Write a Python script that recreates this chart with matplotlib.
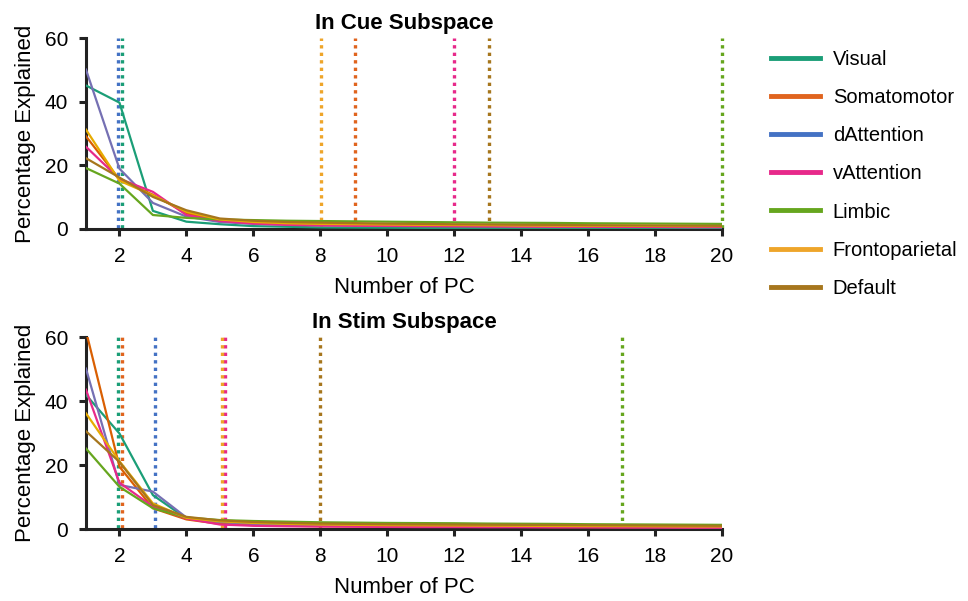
"""Variance explained per PC, by network, in the cue and stim subspaces."""

import matplotlib
matplotlib.use("Agg")
import matplotlib.pyplot as plt
from matplotlib.lines import Line2D

plt.rcParams["font.family"] = ["Liberation Sans", "DejaVu Sans"]

networks = ["Visual", "Somatomotor", "dAttention", "vAttention",
            "Limbic", "Frontoparietal", "Default"]
line_colors = ["#1b9e77", "#d95f02", "#7570b3", "#e7298a",
               "#66a61e", "#e6ab02", "#a6761d"]
marker_colors = ["#1b9e77", "#e0641e", "#4472c4", "#e7298a",
                 "#66a61e", "#eea52a", "#a6761d"]

pcs = list(range(1, 21))

# percentage explained per PC (1..20), cue subspace
cue_visual = [45.2, 39.8, 5.7, 2.3, 1.5, 0.9, 0.7, 0.5, 0.45, 0.4,
              0.35, 0.3, 0.3, 0.25, 0.2, 0.2, 0.15, 0.15, 0.1, 0.1]
cue_somato = [29.2, 15.6, 10.8, 4.9, 2.8, 2.0, 1.6, 1.4, 1.3, 1.2,
              1.15, 1.1, 1.05, 1.0, 0.95, 0.9, 0.9, 0.85, 0.8, 0.8]
cue_dattn = [50.2, 19.0, 8.2, 3.9, 2.2, 1.6, 1.3, 1.2, 1.1, 1.0,
             0.95, 0.9, 0.85, 0.8, 0.75, 0.7, 0.7, 0.65, 0.6, 0.6]
cue_vattn = [25.9, 15.8, 11.7, 4.4, 2.5, 1.7, 1.3, 1.1, 1.0, 0.95,
             0.9, 0.85, 0.8, 0.75, 0.7, 0.7, 0.65, 0.65, 0.6, 0.6]
cue_limbic = [19.2, 14.3, 4.4, 3.5, 3.0, 2.8, 2.6, 2.5, 2.4, 2.3,
              2.2, 2.1, 2.0, 1.95, 1.9, 1.8, 1.75, 1.7, 1.65, 1.6]
cue_fronto = [31.3, 15.2, 10.6, 5.4, 3.0, 2.2, 1.8, 1.6, 1.5, 1.4,
              1.3, 1.25, 1.2, 1.1, 1.05, 1.0, 1.0, 0.95, 0.9, 0.9]
cue_default = [22.3, 16.2, 10.1, 5.9, 3.3, 2.6, 2.2, 2.0, 1.85, 1.7,
               1.6, 1.5, 1.45, 1.35, 1.3, 1.2, 1.15, 1.1, 1.05, 1.0]

# percentage explained per PC (1..20), stim subspace
stim_visual = [42.0, 29.9, 10.6, 3.3, 2.3, 1.8, 1.5, 1.3, 1.2, 1.1,
               1.05, 1.0, 0.95, 0.9, 0.85, 0.8, 0.8, 0.75, 0.7, 0.7]
stim_somato = [62.0, 19.5, 6.5, 3.0, 1.6, 1.2, 1.0, 0.9, 0.85, 0.8,
               0.75, 0.7, 0.7, 0.65, 0.6, 0.6, 0.55, 0.55, 0.5, 0.5]
stim_dattn = [50.2, 13.8, 11.7, 3.6, 2.2, 1.6, 1.3, 1.1, 1.0, 0.95,
              0.9, 0.85, 0.8, 0.75, 0.7, 0.7, 0.65, 0.6, 0.6, 0.55]
stim_vattn = [43.6, 14.5, 7.0, 3.3, 1.4, 1.0, 0.85, 0.75, 0.7, 0.65,
              0.6, 0.6, 0.55, 0.55, 0.5, 0.5, 0.45, 0.45, 0.4, 0.4]
stim_limbic = [25.2, 13.2, 6.5, 3.6, 2.8, 2.5, 2.3, 2.1, 2.0, 1.9,
               1.85, 1.8, 1.7, 1.65, 1.6, 1.5, 1.45, 1.4, 1.35, 1.3]
stim_fronto = [36.2, 21.2, 8.0, 3.5, 2.4, 1.9, 1.6, 1.4, 1.3, 1.2,
               1.15, 1.1, 1.05, 1.0, 0.95, 0.9, 0.9, 0.85, 0.8, 0.8]
stim_default = [30.6, 21.0, 7.5, 3.8, 2.7, 2.2, 1.9, 1.7, 1.6, 1.5,
                1.45, 1.4, 1.35, 1.3, 1.25, 1.2, 1.15, 1.1, 1.05, 1.0]

cue_series = [cue_visual, cue_somato, cue_dattn, cue_vattn,
              cue_limbic, cue_fronto, cue_default]
stim_series = [stim_visual, stim_somato, stim_dattn, stim_vattn,
               stim_limbic, stim_fronto, stim_default]

# PC count marked by the dotted lines (small offsets keep overlaps visible)
cue_marks = [2.07, 9.05, 1.96, 12.0, 20.0, 8.03, 13.05]
stim_marks = [1.96, 2.07, 3.05, 5.16, 17.0, 5.07, 8.0]

fig = plt.figure(figsize=(9.68, 6.01), dpi=100)
ax_top = fig.add_axes([0.0888, 0.619, 0.657, 0.317])
ax_bot = fig.add_axes([0.0888, 0.1198, 0.657, 0.319])

panels = [(ax_top, cue_series, cue_marks, "In Cue Subspace"),
          (ax_bot, stim_series, stim_marks, "In Stim Subspace")]

for ax, series, marks, title in panels:
    for vals, col in zip(series, line_colors):
        ax.plot(pcs, vals, color=col, lw=1.6, zorder=3)
    for x, col in zip(marks, marker_colors):
        ax.plot([x, x], [0.3, 60], color=col, lw=2.4,
                linestyle=(0, (1, 1.25)), zorder=2, clip_on=False)

    ax.set_xlim(1, 20)
    ax.set_ylim(0, 60)
    ax.set_xticks(range(2, 21, 2))
    ax.set_yticks([0, 20, 40, 60])
    ax.set_xlabel("Number of PC", fontsize=16, labelpad=8)
    ax.set_ylabel("Percentage Explained", fontsize=16, labelpad=6)
    ax.set_title(title, fontsize=16, fontweight="bold", pad=7)

    ax.spines["top"].set_visible(False)
    ax.spines["right"].set_visible(False)
    for side in ["left", "bottom"]:
        ax.spines[side].set_linewidth(2.2)
        ax.spines[side].set_color("#222222")
    ax.tick_params(width=2.2, length=5, labelsize=15, color="#222222")
    ax.tick_params(axis="x", pad=8)
    ax.tick_params(axis="y", pad=8)

handles = [Line2D([], [], color=c, lw=3.5) for c in marker_colors]
fig.legend(handles, networks, loc="upper left", bbox_to_anchor=(0.778, 0.947),
           frameon=False, fontsize=14.5, handlelength=2.4, handletextpad=0.65,
           labelspacing=0.95)

fig.savefig("out.png", dpi=100)
